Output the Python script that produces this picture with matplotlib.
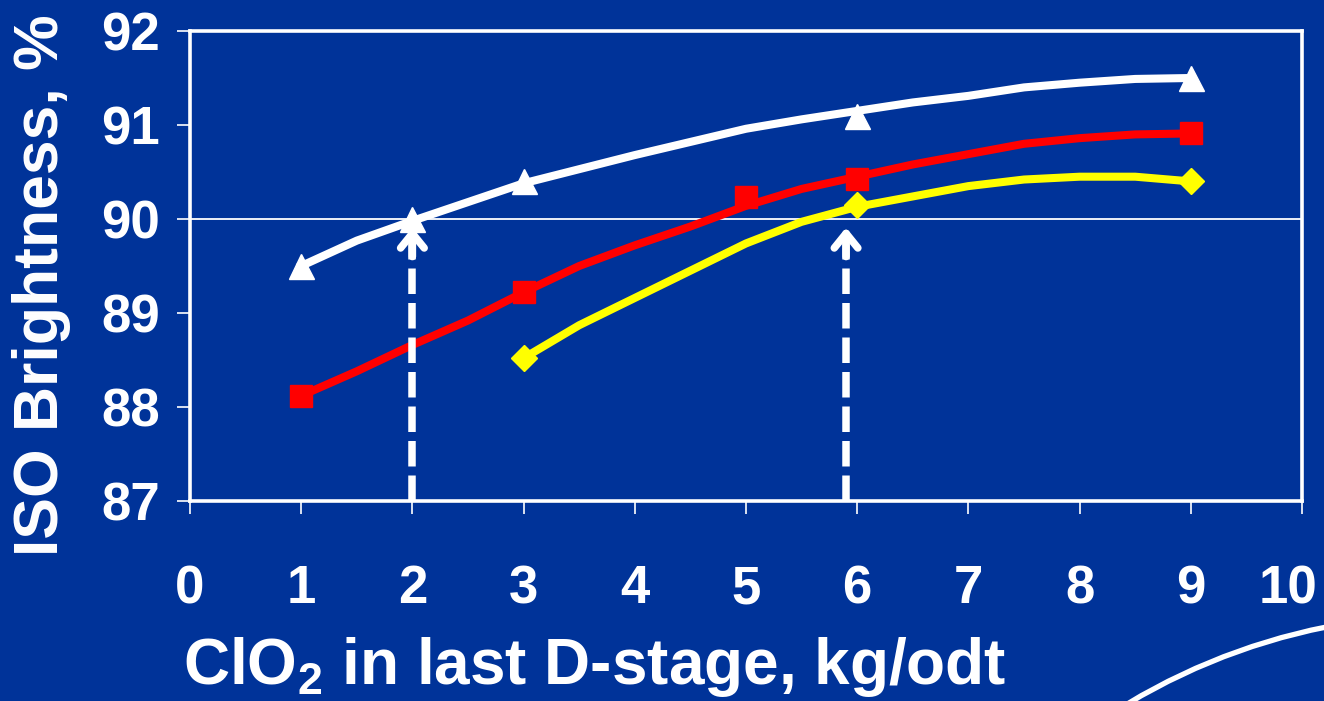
import matplotlib
matplotlib.use("Agg")
import matplotlib.pyplot as plt
import matplotlib.transforms as mtransforms
from matplotlib.patches import Circle

# measured points (markers)
white_x = [1, 2, 3, 6, 9]
white_y = [89.5, 90.0, 90.4, 91.1, 91.5]
red_x = [1, 3, 5, 6, 9]
red_y = [88.12, 89.22, 90.23, 90.43, 90.91]
yellow_x = [3, 6, 9]
yellow_y = [88.52, 90.15, 90.40]

# trend curves
curve_x = [1, 1.5, 2, 2.5, 3, 3.5, 4, 4.5, 5, 5.5, 6, 6.5, 7, 7.5, 8, 8.5, 9]
white_curve = [89.5, 89.77, 89.98, 90.18, 90.38, 90.53, 90.68, 90.82, 90.96, 91.06,
               91.15, 91.24, 91.31, 91.40, 91.45, 91.49, 91.5]
red_curve = [88.12, 88.38, 88.66, 88.92, 89.22, 89.5, 89.72, 89.92, 90.14, 90.32,
             90.45, 90.58, 90.69, 90.8, 90.86, 90.9, 90.91]
yellow_curve_x = [3, 3.5, 4, 4.5, 5, 5.5, 6, 6.5, 7, 7.5, 8, 8.5, 9]
yellow_curve = [88.52, 88.87, 89.16, 89.45, 89.74, 89.97, 90.13, 90.24, 90.35,
                90.42, 90.45, 90.45, 90.4]

target = 90
arrow_x = [2, 5.9]
x_ticks = list(range(0, 11))
y_ticks = [87, 88, 89, 90, 91, 92]

bg = "#003399"
plt.rcParams["font.family"] = ["Liberation Sans", "DejaVu Sans"]
plt.rcParams["font.weight"] = "bold"
plt.rcParams["mathtext.fontset"] = "custom"
plt.rcParams["mathtext.rm"] = "Liberation Sans:bold"
plt.rcParams["mathtext.bf"] = "Liberation Sans:bold"

fig = plt.figure(figsize=(13.24, 7.01), dpi=100, facecolor=bg)
ax = fig.add_axes([190 / 1324, 1 - 501 / 701, 1112 / 1324, 470 / 701])
ax.set_facecolor(bg)

ax.set_xlim(0, 10)
ax.set_ylim(87, 92)

ax.axhline(target, color="white", lw=1.3, zorder=1)

lw = 5.8
ax.plot(curve_x, white_curve, color="white", lw=lw, solid_joinstyle="round", zorder=3)
ax.plot(curve_x, red_curve, color="red", lw=lw, solid_joinstyle="round", zorder=3)
ax.plot(yellow_curve_x, yellow_curve, color="yellow", lw=lw, solid_joinstyle="round", zorder=3)

ax.plot(white_x, white_y, "^", color="white", ms=18, ls="none", zorder=4)
ax.plot(red_x, red_y, "s", color="red", ms=16, ls="none", zorder=4)
ax.plot(yellow_x, yellow_y, "D", color="yellow", ms=13.5, ls="none", zorder=4)

for xa in arrow_x:
    ax.plot([xa, xa], [87, target - 0.15], color="white", lw=5.4,
            ls=(0, (3.4, 1.2)), solid_capstyle="butt", zorder=5)
    ax.annotate("", xy=(xa, target - 0.09), xytext=(xa, target - 0.4),
                arrowprops=dict(arrowstyle="->,head_length=1.05,head_width=0.85",
                                color="white", lw=5.4, capstyle="round",
                                joinstyle="round", shrinkA=0, shrinkB=0),
                zorder=5)

for s in ax.spines.values():
    s.set_color("white")
    s.set_linewidth(2.6)

ax.set_xticks(x_ticks)
ax.set_yticks(y_ticks)
ax.tick_params(axis="both", colors="white", direction="out", length=9.5, width=1.2,
               labelsize=38)
ax.tick_params(axis="x", pad=36)
ax.tick_params(axis="y", pad=12)
for lab in ax.get_xticklabels() + ax.get_yticklabels():
    lab.set_fontweight("bold")
# last x label sits a little left of its tick, as in the slide
last = ax.get_xticklabels()[-1]
last.set_transform(last.get_transform() +
                   mtransforms.ScaledTranslation(-0.14, 0, fig.dpi_scale_trans))

fig.text(42 / 1324, 1 - 285 / 701, "ISO Brightness, %", rotation=90, color="white",
         fontsize=45, fontweight="bold", ha="center", va="center")
fig.text(595 / 1324, 1 - 684 / 701, "ClO$_2$ in last D-stage, kg/odt", color="white",
         fontsize=46, fontweight="bold", ha="center", va="baseline")

# decorative arc in the lower right corner
fig.add_artist(Circle((14.48, -5.37), 6.23, transform=fig.dpi_scale_trans,
                      fill=False, edgecolor="white", lw=3.8, clip_on=False))

fig.savefig("out.png", dpi=100, facecolor=bg)
